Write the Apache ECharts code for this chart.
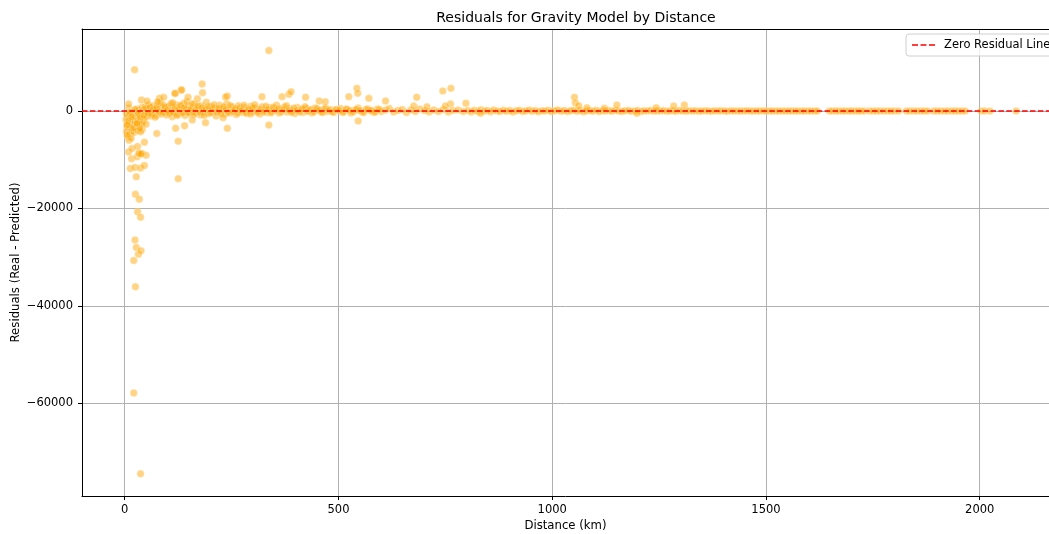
<!DOCTYPE html>
<html>
<head>
<meta charset="utf-8">
<script src="https://cdn.jsdelivr.net/npm/echarts@6/dist/echarts.min.js"></script>
<style>
  html, body { margin: 0; padding: 0; background: #fff; }
  #chart { width: 1049px; height: 534px; }
</style>
</head>
<body>
<div id="chart"></div>
<script>
//****************************** Data *************************************//

// x ticks / y ticks shown on the axes
const xTicks = [0, 500, 1000, 1500, 2000];
const yTicks = [-60000, -40000, -20000, 0];

// [distance km, residual] : big outliers
const outliers = [
  [23, 8480], [337, 12400], [21, -57900], [37, -74500],
  [21, -30700], [25, -36100], [24, -26500], [27, -28000], [32, -29400], [38, -28700],
  [30, -20700], [37, -21800], [25, -17100], [34, -18100], [27, -13500],
  [13, -11800], [24, -11600], [37, -11700], [46, -11200],
  [16, -9800], [29, -9400], [35, -8800], [40, -8700], [50, -9100],
  [9, -8400], [17, -7700], [30, -7300], [46, -6400], [33, -8690], [38, -8830],
  [125, -13900], [125, -6200], [75, -4600], [119, -3560], [140, -3020],
  [158, -1850], [189, -2400], [240, -3560], [337, -2880], [230, -1370],
  [546, -2050], [50, -2740], [37, -4250], [35, -3560], [6, -4930], [6, -2880], [29, -2530],
  [181, 5540], [182, 3760], [132, 4310], [119, 3630], [148, 2810], [240, 3080],
  [321, 2940], [368, 2940], [384, 3430], [389, 3960], [423, 2810], [455, 2050],
  [469, 1910], [524, 2940], [543, 4660], [545, 3630], [571, 2600], [610, 2050],
  [39, 2260], [52, 2050], [81, 2600], [91, 2810], [9, 1440], [77, 1910],
  [117, 3600], [133, 4300], [683, 2810], [744, 4100], [763, 4660], [762, 1440],
  [798, 1580], [750, 1030], [676, 1030], [707, 880], [1052, 2810], [1054, 1700],
  [1062, 1090], [1081, 680], [1151, 1230], [1122, 550], [1284, 1030], [1309, 1230],
  [1243, 680], [832, -470], [1198, -470], [236, 2900], [170, 2500], [112, 1700]
];

// [distance km, residual] : thick band around zero, 0 - 800 km
const nearBand = [
  [3,-1800],[4,-4200],[5,-3200],[6,-2600],[7,-5300],[7,-1200],[8,-3900],[9,600],[10,-2300],[10,-6000],
  [11,-800],[12,-4700],[13,-3500],[14,-1500],[15,-200],[15,-5600],[16,-2800],[17,-4100],[18,-900],[19,-3000],
  [20,-1900],[21,-300],[22,-4400],[23,-1100],[24,-2200],[25,-600],[26,-3700],[27,-1500],[28,400],[29,-2900],
  [30,-700],[31,-4000],[32,-1800],[33,200],[34,-3300],[35,-900],[36,-2500],[37,-300],[38,-1600],[40,700],
  [41,-3800],[42,-1200],[43,-2100],[44,300],[46,-500],[47,-1500],[48,900],[50,-200],[51,-1100],[53,400],
  [55,-700],[56,1300],[58,-300],[60,600],[62,-1000],[64,200],[66,-500],[68,1100],[70,-200],[72,500],
  [74,-900],[76,300],[79,1500],[81,-400],[83,800],[86,-600],[88,200],[90,1200],[93,-300],[95,600],
  [98,-800],[100,300],[103,1000],[106,-200],[109,700],[111,-1200],[114,400],[117,-500],[120,1300],[123,200],
  [126,-700],[129,900],[132,-300],[135,500],[138,1600],[141,-900],[144,300],[147,-200],[150,1000],[153,-600],
  [156,600],[160,-100],[163,1400],[166,-400],[170,700],[173,200],[177,-800],[180,1100],[184,-300],[187,500],
  [191,1800],[195,-500],[198,200],[202,900],[206,-300],[210,600],[214,-1000],[218,300],[222,1200],[226,-200],
  [230,500],[235,-600],[239,1500],[243,100],[248,-400],[252,800],[257,300],[261,-700],[266,1100],[270,200],
  [275,-300],[280,700],[285,-500],[290,400],[295,1000],[300,-200],[305,600],[310,100],[316,-600],[321,900],
  [327,200],[332,-300],[338,700],[343,-100],[349,400],[355,1200],[361,-400],[367,300],[373,800],[379,-200],
  [385,500],[391,100],[398,-500],[404,700],[411,200],[417,-300],[424,500],[431,100],[438,-400],[445,600],
  [452,200],[459,-200],[466,400],[474,-100],[481,300],[489,-300],[497,200],[505,500],[513,-100],[521,300],
  [529,-400],[538,200],[546,600],[555,-200],[564,300],[573,100],[582,-300],[591,400],[600,-100],[610,200],
  [619,500],[629,-200],[639,100],[649,300],[659,-300],[669,200],[680,-100],[690,400],[701,100],[712,-200],
  [723,200],[734,-100],[745,300],[757,-200],[768,100],[780,200],[792,-100]
];

// [distance km, residual] : extra points filling the band, 0 - 600 km
const nearBandExtra = [
  [4,-600],[8,-2000],[12,-300],[16,-1200],[20,-3500],[24,300],[28,-2600],[32,-500],[36,-1400],[40,-2600],
  [45,-900],[49,500],[54,-400],[59,900],[63,-700],[67,300],[71,-1300],[75,800],[80,-100],[84,1700],
  [89,-300],[94,900],[99,100],[104,-500],[108,1500],[113,-300],[118,800],[122,-900],[127,300],[131,1200],
  [136,-400],[140,700],[145,1900],[149,-300],[154,300],[158,1500],[162,-700],[167,300],[171,1100],[176,-300],
  [181,700],[186,-900],[190,300],[196,1000],[200,-400],[205,400],[209,1300],[215,-200],[220,600],[225,-500],
  [231,900],[237,300],[242,-300],[247,1100],[253,-100],[259,500],[264,-400],[269,700],[274,100],[279,1200],
  [284,-300],[289,300],[294,-600],[299,600],[304,1300],[311,-300],[318,400],[324,-200],[330,1000],[336,300],
  [342,-400],[348,800],[354,100],[360,500],[366,-200],[372,300],[378,1100],[384,100],[390,-300],[396,600],
  [402,100],[409,-200],[415,400],[422,900],[428,-100],[435,300],[442,-200],[449,500],[456,100],[463,-300],
  [470,600],[478,100],[486,-200],[494,300],[502,100],[510,-300],[518,400],[526,100],[534,-200],[542,300],
  [550,100],[559,-300],[568,400],[577,100],[586,-200],[595,300]
];

// [distance km, residual] : flat band, 800 km and beyond
const farBand = [
  [803,100],[811,-200],[818,150],[826,-100],[833,250],[841,-50],[848,100],[856,-150],[863,200],[871,0],
  [878,-100],[886,150],[893,-50],[901,100],[908,-200],[916,50],[923,150],[931,-100],[938,0],[946,200],
  [953,-50],[961,100],[968,-150],[976,50],[983,0],[991,150],[998,-100],[1006,50],[1013,200],[1021,-50],
  [1028,100],[1036,-100],[1043,50],[1050,150],[1058,-50],[1065,100],[1073,-150],[1080,0],[1088,100],[1095,-50],
  [1103,150],[1110,-100],[1118,50],[1125,0],[1133,100],[1140,-50],[1148,150],[1155,0],[1163,-100],[1170,50],
  [1178,100],[1185,-50],[1193,0],[1200,100],[1208,-100],[1215,50],[1223,0],[1230,100],[1238,-50],[1245,50],
  [1253,0],[1260,100],[1268,-50],[1275,0],[1283,50],[1290,-50],[1298,100],[1305,0],[1313,-50],[1320,50],
  [1328,0],[1335,50],[1343,-50],[1350,0],[1358,50],[1365,0],[1373,-50],[1380,50],[1388,0],[1395,30],
  [1403,0],[1410,-30],[1418,30],[1425,0],[1433,20],[1440,-20],[1448,0],[1455,30],[1463,0],[1470,-20],
  [1478,20],[1485,0],[1493,30],[1500,-20],[1508,0],[1515,20],[1523,0],[1530,-20],[1538,20],[1545,0],
  [1553,20],[1560,-20],[1568,0],[1575,20],[1583,0],[1590,-20],[1598,20],[1605,0],[1613,10],[1620,0],
  [1648,0],[1655,20],[1663,0],[1670,-20],[1678,10],[1685,0],[1693,20],[1700,0],[1708,-10],[1715,10],
  [1722,0],[1730,10],[1742,0],[1750,10],[1758,0],[1766,-10],[1775,0],[1784,10],[1792,0],[1800,10],
  [1810,0],[1828,0],[1836,10],[1845,0],[1853,-10],[1862,0],[1870,10],[1878,0],[1892,0],[1900,10],
  [1908,0],[1917,-10],[1925,0],[1934,10],[1942,0],[1950,0],[1958,10],[1966,0],[2003,0],[2012,10],
  [2024,0],[2085,0]
];

// zero residual reference line, spanning the x range
const zeroLine = [[-100, 0], [2162, 0]];

//****************************** Chart *************************************//

const font = "DejaVu Sans";
const minus = (v) => String(v).replace("-", "\u2212");

// dashed legend sample, like matplotlib's "--"
const dashIcon = "path://M0,0h6v1.5h-6z M8.5,0h6v1.5h-6z M17,0h6v1.5h-6z";

var myChart = echarts.init(document.getElementById("chart"), null, { renderer: "canvas" });

var option = {
  animation: false,
  backgroundColor: "#fff",
  textStyle: { fontFamily: font },
  title: {
    text: "Residuals for Gravity Model by Distance",
    left: 571,
    top: 6,
    textAlign: "center",
    textStyle: { fontFamily: font, fontSize: 14, fontWeight: "normal", color: "#000" },
  },
  legend: {
    left: 906,
    top: 34,
    padding: [5, 8, 5, 6],
    itemWidth: 23,
    itemHeight: 1.5,
    itemGap: 6,
    backgroundColor: "rgba(255,255,255,0.8)",
    borderColor: "#d0d0d0",
    borderWidth: 1,
    borderRadius: 3,
    data: [{ name: "Zero Residual Line", icon: dashIcon }],
    itemStyle: { color: "red" },
    textStyle: { fontFamily: font, fontSize: 11.5, color: "#000", padding: [0, 0, 0, 4] },
  },
  grid: {
    left: 82,
    top: 29,
    bottom: 38,
    right: 0,
    containLabel: false,
    outerBoundsMode: "none",
  },
  xAxis: [
    {
      type: "value",
      min: -100,
      max: 2162,
      name: "Distance (km)",
      nameLocation: "middle",
      nameGap: 24,
      nameMoveOverlap: false,
      nameTextStyle: { fontFamily: font, fontSize: 11.7, color: "#000" },
      axisLine: { show: true, onZero: false, lineStyle: { color: "#000", width: 1 } },
      axisTick: { show: true, length: 4, customValues: xTicks, lineStyle: { color: "#000" } },
      axisLabel: {
        customValues: xTicks,
        fontFamily: font,
        fontSize: 11.5,
        color: "#000",
        margin: 8,
        formatter: (v) => String(v),
      },
      splitLine: { show: true, lineStyle: { color: "#b0b0b0", width: 1 } },
    },
    {
      // top spine only
      type: "value",
      position: "top",
      min: -100,
      max: 2162,
      axisLine: { show: true, onZero: false, lineStyle: { color: "#000", width: 1 } },
      axisTick: { show: false },
      axisLabel: { show: false },
      splitLine: { show: false },
    },
  ],
  yAxis: {
    type: "value",
    min: -79050,
    max: 16840,
    name: "Residuals (Real - Predicted)",
    nameLocation: "middle",
    nameGap: 60,
    nameMoveOverlap: false,
    nameTextStyle: { fontFamily: font, fontSize: 11.7, color: "#000" },
    axisLine: { show: true, onZero: false, lineStyle: { color: "#000", width: 1 } },
    axisTick: { show: true, length: 4, customValues: yTicks, lineStyle: { color: "#000" } },
    axisLabel: {
      customValues: yTicks,
      fontFamily: font,
      fontSize: 11.5,
      color: "#000",
      margin: 9,
      formatter: minus,
    },
    splitLine: { show: true, lineStyle: { color: "#b0b0b0", width: 1 } },
  },
  series: [
    {
      name: "Residuals",
      type: "scatter",
      data: nearBand.concat(nearBandExtra, farBand, outliers),
      symbolSize: 7.5,
      itemStyle: {
        color: "rgba(255,165,0,0.6)",
        borderColor: "rgba(255,255,255,0.7)",
        borderWidth: 0.6,
      },
      z: 2,
    },
    {
      name: "Zero Residual Line",
      type: "line",
      data: zeroLine,
      symbol: "none",
      lineStyle: { color: "red", width: 1.5, type: [5.5, 2.4] },
      itemStyle: { color: "red" },
      z: 3,
    },
  ],
};

if (option && typeof option === "object") {
  myChart.setOption(option);
}
</script>
</body>
</html>
